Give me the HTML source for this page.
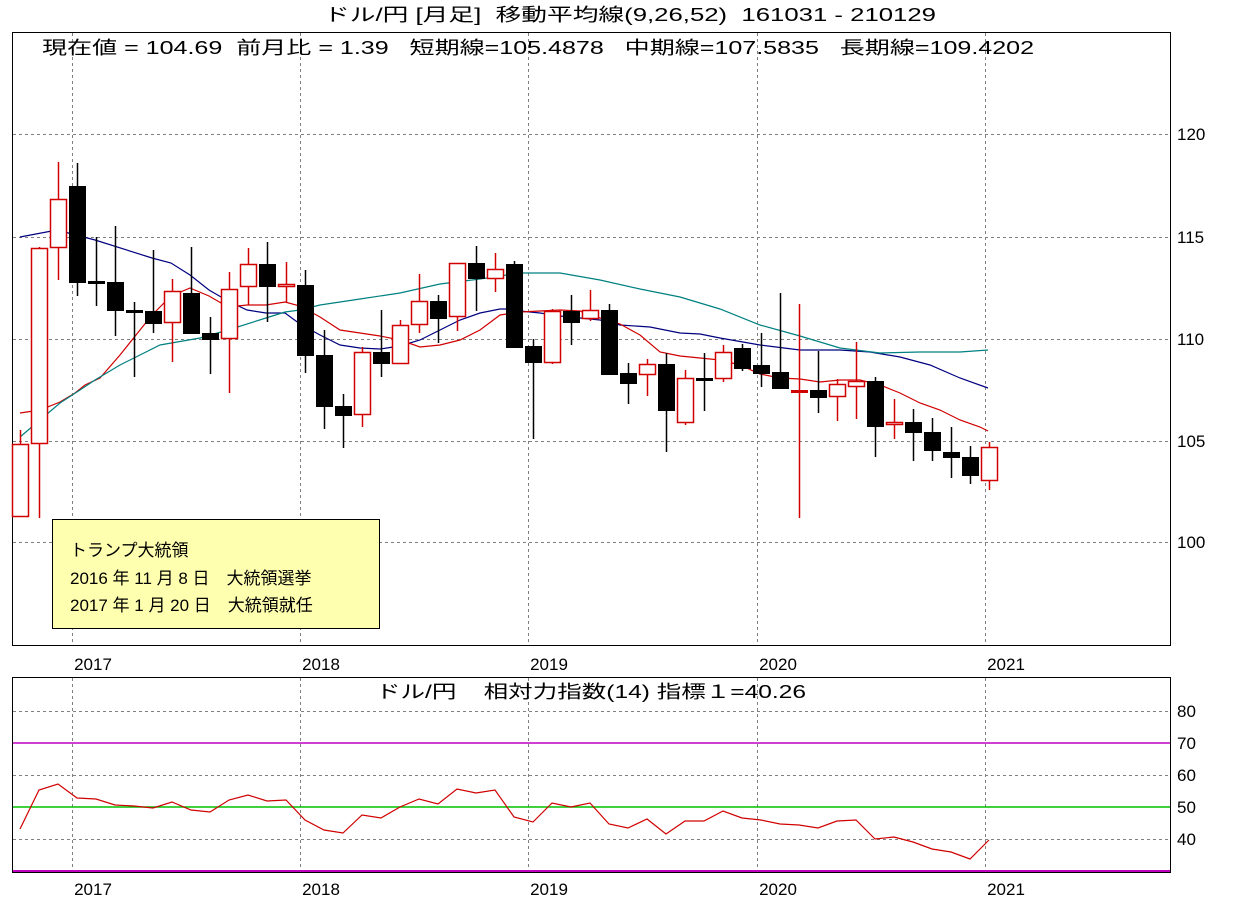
<!DOCTYPE html>
<html><head><meta charset="utf-8"><style>
html,body{margin:0;padding:0;background:#fff;}
svg{display:block;font-family:"Liberation Sans","Noto Sans CJK JP",sans-serif;}
text{white-space:pre;}
</style></head><body>
<svg id="s" width="1254" height="902" xmlns="http://www.w3.org/2000/svg">
<rect width="1254" height="902" fill="#fff"/>
<text x="630" y="21" font-size="18" text-anchor="middle" textLength="612" lengthAdjust="spacingAndGlyphs" xml:space="preserve">ドル/円 [月足]  移動平均線(9,26,52)  161031 - 210129</text>
<g id="grid" stroke="#808080" stroke-width="1" stroke-dasharray="3,3" fill="none"></g>
<rect x="12.5" y="32.5" width="1158" height="613" fill="none" stroke="#000"/>
<rect x="12.5" y="677.5" width="1158" height="195" fill="none" stroke="#000"/>
<text x="42" y="54" font-size="18" textLength="992" lengthAdjust="spacingAndGlyphs" xml:space="preserve">現在値 = 104.69  前月比 = 1.39   短期線=105.4878   中期線=107.5835   長期線=109.4202</text>
<g id="lines"></g>
<g id="candles"></g>
<rect x="52.5" y="519.5" width="327" height="109" fill="#ffffb0" stroke="#000"/>
<text x="70" y="556" font-size="17">トランプ大統領</text>
<text x="70" y="584" font-size="17" xml:space="preserve">2016 年 11 月 8 日　大統領選挙</text>
<text x="70" y="611" font-size="17" xml:space="preserve">2017 年 1 月 20 日　大統領就任</text>
<text x="591" y="698" font-size="18" text-anchor="middle" textLength="430" lengthAdjust="spacingAndGlyphs" xml:space="preserve">ドル/円    相対力指数(14) 指標１=40.26</text>
<g id="labels" font-size="17"></g>
</svg>
<script>
var NS="http://www.w3.org/2000/svg";
function el(p,t,a,txt){var e=document.createElementNS(NS,t);for(var k in a)e.setAttribute(k,a[k]);if(txt!=null)e.textContent=txt;document.getElementById(p).appendChild(e);return e;}
var years=[72,300,528,757,985],yl=["2017","2018","2019","2020","2021"];
years.forEach(function(x,i){
 el("grid","line",{x1:x+.5,y1:33,x2:x+.5,y2:645});
 el("grid","line",{x1:x+.5,y1:678,x2:x+.5,y2:872});
 el("labels","text",{x:x+21,y:670,"text-anchor":"middle"},yl[i]);
 el("labels","text",{x:x+21,y:895,"text-anchor":"middle"},yl[i]);
});
[[134,"120"],[237,"115"],[339,"110"],[441,"105"],[542,"100"]].forEach(function(g){
 el("grid","line",{x1:13,y1:g[0]+.5,x2:1170,y2:g[0]+.5});
 el("labels","text",{x:1177,y:g[0]+6},g[1]);
});
[[711,"80"],[775,"60"],[839,"40"]].forEach(function(g){
 el("grid","line",{x1:13,y1:g[0]+.5,x2:1170,y2:g[0]+.5});
 el("labels","text",{x:1177,y:g[0]+6},g[1]);
});
el("labels","text",{x:1177,y:749},"70");
el("labels","text",{x:1177,y:813},"50");
el("lines","line",{x1:13,y1:743,x2:1170,y2:743,stroke:"#c000c0","stroke-width":1.5});
el("lines","line",{x1:13,y1:871,x2:1170,y2:871,stroke:"#c000c0","stroke-width":2});
el("lines","line",{x1:13,y1:807,x2:1170,y2:807,stroke:"#00c000","stroke-width":1.5});
function pl(pts,c){el("lines","polyline",{points:pts.map(function(p){return p.join(",")}).join(" "),fill:"none",stroke:c,"stroke-width":1.2});}
pl([[20,237],[57,230],[95,240],[152,258],[171,263],[190,275],[209,290],[228,301],[247,310],[266,313],[285,313],[300,324],[320,335],[340,345],[360,348],[380,349],[400,346],[420,340],[440,330],[460,320],[480,313],[500,309],[513,309],[520,311],[540,313],[560,316],[580,318],[600,320],[620,325],[650,327],[680,333],[700,334],[720,338],[760,345],[800,350],[840,350],[870,352],[900,357],[930,365],[960,378],[988,388]],"#000080");
pl([[20,413],[40,410],[60,402],[75,393],[85,385],[100,378],[120,355],[140,330],[152,315],[171,296],[190,288],[209,296],[228,307],[247,305],[266,305],[285,302],[300,306],[320,317],[340,330],[360,333],[380,336],[400,340],[420,347],[440,345],[460,340],[480,330],[500,315],[520,312],[540,311],[560,310],[580,311],[600,318],[620,324],[640,335],[660,352],[680,356],[700,358],[720,360],[740,365],[760,374],[780,378],[800,379],[820,382],[840,380],[860,380],[880,385],[900,393],[920,403],[940,410],[960,420],[980,427],[988,431]],"#d00000");
pl([[20,437],[40,420],[60,403],[80,390],[95,380],[120,365],[140,355],[160,345],[200,338],[228,330],[266,318],[285,312],[300,310],[320,305],[360,299],[400,293],[440,284],[480,279],[500,276],[520,273],[560,273],[600,280],[640,289],[680,297],[720,309],[760,325],[800,336],[840,348],[880,353],[920,352],[960,352],[988,350]],"#008080");
var C=[[517,444,430,517],[444,248,247,518],[248,199,162,280],[186,283,163,296],[282,282,237,306],[282,311,226,336],[311,311,302,377],[311,324,250,333],[323,291,279,362],[293,334,247,334],[333,340,317,374],[339,289,272,393],[287,264,248,305],[264,287,242,322],[287,284,262,303],[285,356,270,373],[355,407,330,429],[406,416,394,448],[415,352,347,427],[352,364,310,377],[364,325,320,364],[325,301,274,333],[301,319,295,343],[317,263,263,331],[263,279,246,311],[279,269,253,292],[264,348,261,348],[346,363,339,439],[363,311,309,364],[311,323,295,345],[319,310,290,321],[310,375,304,375],[373,384,363,404],[375,364,359,396],[364,411,353,452],[423,378,370,425],[379,379,353,411],[379,352,345,382],[348,369,344,371],[365,374,333,387],[372,389,293,389],[391,391,304,518],[390,398,351,413],[397,384,379,421],[387,381,342,419],[381,427,377,457],[425,422,399,439],[422,433,409,461],[432,451,418,461],[452,458,427,478],[457,476,446,484],[481,447,442,490]];
C.forEach(function(c,i){
 var x=20+19*i,up=c[1]<c[0]||(c[1]==c[0]&&i==41),col=up?"#d00000":"#000";
 el("candles","line",{x1:x+.5,y1:c[2],x2:x+.5,y2:c[3],stroke:col,"stroke-width":1.5});
 var t=Math.min(c[0],c[1]),h=Math.abs(c[0]-c[1]);
 if(h<2){el("candles","rect",{x:x-8,y:t-1,width:17,height:3,fill:col});}
 else if(up) el("candles","rect",{x:x-7.5,y:t+.5,width:16,height:h-1,fill:"#fff",stroke:col,"stroke-width":1.5});
 else el("candles","rect",{x:x-8,y:t,width:17,height:h,fill:"#000"});
});
var R=[829,790,784,798,799,805,806,808,802,810,812,800,795,801,800,820,830,833,815,818,807,799,804,789,793,790,817,822,803,807,803,824,828,819,834,821,821,811,818,820,824,825,828,821,820,839,837,842,849,852,859,840];
pl(R.map(function(y,i){return[20+19*i,y]}),"#d00000");
</script>
</body></html>
